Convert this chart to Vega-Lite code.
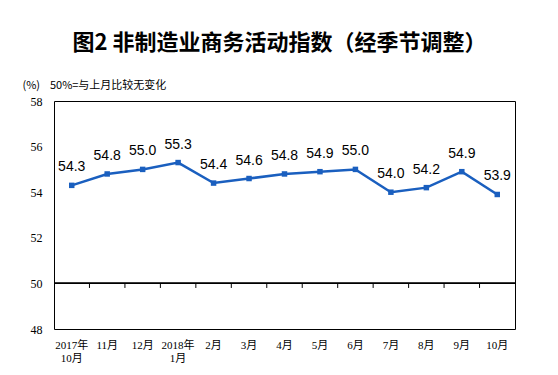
{
  "$schema": "https://vega.github.io/schema/vega-lite/v6.json",
  "width": 461,
  "height": 228,
  "autosize": "none",
  "padding": {"left": 54, "top": 101, "right": 43, "bottom": 46},
  "background": "white",
  "title": {
    "text": "图2  非制造业商务活动指数（经季节调整）",
    "font": "Noto Sans CJK SC",
    "fontSize": 22,
    "fontWeight": "bold",
    "color": "#000000",
    "anchor": "middle",
    "dx": -5,
    "offset": 24
  },
  "config": {
    "view": {"stroke": "#000000", "strokeWidth": 1},
    "axis": {"grid": false}
  },
  "data": {
    "values": [
      {"m": "2017年|10月", "v": 54.3},
      {"m": "11月", "v": 54.8},
      {"m": "12月", "v": 55.0},
      {"m": "2018年|1月", "v": 55.3},
      {"m": "2月", "v": 54.4},
      {"m": "3月", "v": 54.6},
      {"m": "4月", "v": 54.8},
      {"m": "5月", "v": 54.9},
      {"m": "6月", "v": 55.0},
      {"m": "7月", "v": 54.0},
      {"m": "8月", "v": 54.2},
      {"m": "9月", "v": 54.9},
      {"m": "10月", "v": 53.9}
    ]
  },
  "encoding": {
    "x": {
      "field": "m",
      "type": "nominal",
      "sort": ["2017年|10月", "11月", "12月", "2018年|1月", "2月", "3月", "4月", "5月", "6月", "7月", "8月", "9月", "10月"],
      "scale": {"type": "band", "paddingInner": 0, "paddingOuter": 0},
      "axis": {
        "title": null,
        "domain": false,
        "ticks": false,
        "labelAngle": 0,
        "labelPadding": 10,
        "labelExpr": "split(datum.value, '|')",
        "labelFont": "Liberation Serif, Noto Sans CJK SC",
        "labelFontSize": 11,
        "labelLineHeight": 13,
        "labelColor": "#000000"
      }
    },
    "y": {
      "field": "v",
      "type": "quantitative",
      "scale": {"domain": [48, 58], "nice": false, "zero": false},
      "axis": {
        "values": [48, 50, 52, 54, 56, 58],
        "domain": false,
        "ticks": false,
        "labelPadding": 12,
        "labelFont": "Liberation Serif",
        "labelFontSize": 12,
        "labelColor": "#000000",
        "title": "(%)\u00a0\u00a0\u00a0\u00a050%=与上月比较无变化",
        "titleAngle": 0,
        "titleAlign": "left",
        "titleBaseline": "middle",
        "titleX": -32,
        "titleY": -16,
        "titleFont": "Noto Sans CJK SC",
        "titleFontSize": 11,
        "titleFontWeight": "normal",
        "titleColor": "#000000"
      }
    }
  },
  "layer": [
    {
      "mark": {"type": "rule", "color": "#000000", "strokeWidth": 1},
      "encoding": {"x": null, "y": {"datum": 50}}
    },
    {
      "transform": [{"filter": "datum.m != '2017年|10月'"}],
      "mark": {"type": "rule", "color": "#000000", "strokeWidth": 1},
      "encoding": {
        "x": {"field": "m", "type": "nominal", "bandPosition": 0, "sort": ["2017年|10月", "11月", "12月", "2018年|1月", "2月", "3月", "4月", "5月", "6月", "7月", "8月", "9月", "10月"]},
        "y": {"datum": 50},
        "y2": {"datum": 49.8}
      }
    },
    {
      "mark": {
        "type": "line",
        "color": "#1A5FBF",
        "strokeWidth": 2.5,
        "point": {"shape": "square", "size": 30, "filled": true, "color": "#1A5FBF"}
      }
    },
    {
      "mark": {
        "type": "text",
        "dy": -18,
        "font": "Liberation Sans",
        "fontSize": 14,
        "color": "#000000"
      },
      "encoding": {"text": {"field": "v", "type": "quantitative", "format": ".1f"}}
    }
  ]
}
